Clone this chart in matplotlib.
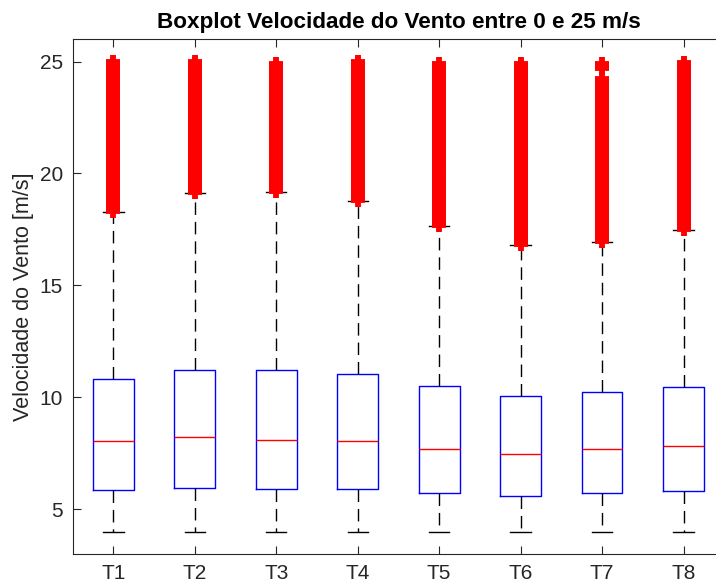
import matplotlib
matplotlib.use("Agg")
import matplotlib.pyplot as plt

plt.rcParams['font.family'] = ['Liberation Sans', 'DejaVu Sans']

labels = ["T1", "T2", "T3", "T4", "T5", "T6", "T7", "T8"]
q1 = [5.86, 5.97, 5.90, 5.90, 5.73, 5.60, 5.72, 5.82]
med = [8.06, 8.22, 8.10, 8.07, 7.69, 7.46, 7.69, 7.83]
q3 = [10.82, 11.24, 11.21, 11.04, 10.50, 10.07, 10.22, 10.47]
whislo = [4.0, 4.0, 4.0, 4.0, 4.0, 4.0, 4.0, 4.0]
whishi = [18.29, 19.15, 19.19, 18.76, 17.64, 16.79, 16.95, 17.46]

fliers_T1 = [18.33, 18.52, 18.71, 18.92, 19.12, 19.31, 19.52, 19.73, 19.93, 20.12,
             20.33, 20.52, 20.71, 20.92, 21.12, 21.31, 21.52, 21.72, 21.91, 22.12,
             22.32, 22.51, 22.72, 22.93, 23.12, 23.31, 23.52, 23.72, 23.91, 24.11,
             24.32, 24.51, 24.71, 24.86, 24.97]
fliers_T2 = [19.19, 19.38, 19.58, 19.77, 19.98, 20.17, 20.38, 20.58, 20.77, 20.97,
             21.18, 21.37, 21.58, 21.78, 21.97, 22.18, 22.38, 22.57, 22.78, 22.98,
             23.17, 23.38, 23.57, 23.78, 23.97, 24.18, 24.37, 24.57, 24.76, 24.88,
             24.98]
fliers_T3 = [19.23, 19.42, 19.62, 19.81, 20.02, 20.21, 20.42, 20.61, 20.82, 21.01,
             21.22, 21.41, 21.62, 21.82, 22.01, 22.22, 22.41, 22.62, 22.81, 23.02,
             23.21, 23.42, 23.61, 23.82, 24.01, 24.22, 24.41, 24.61, 24.78, 24.90]
fliers_T4 = [18.80, 18.99, 19.19, 19.39, 19.58, 19.79, 19.98, 20.19, 20.38, 20.58,
             20.79, 20.98, 21.19, 21.38, 21.59, 21.78, 21.98, 22.19, 22.38, 22.59,
             22.78, 22.99, 23.18, 23.39, 23.58, 23.79, 23.98, 24.19, 24.38, 24.58,
             24.77, 24.88, 24.97]
fliers_T5 = [17.68, 17.87, 18.07, 18.27, 18.46, 18.67, 18.86, 19.07, 19.26, 19.46,
             19.67, 19.86, 20.06, 20.27, 20.46, 20.66, 20.86, 21.06, 21.26, 21.46,
             21.66, 21.86, 22.06, 22.26, 22.46, 22.66, 22.86, 23.06, 23.26, 23.46,
             23.66, 23.82, 24.06, 24.22, 24.38, 24.55, 24.70, 24.87]
fliers_T6 = [16.83, 17.02, 17.22, 17.42, 17.62, 17.82, 18.02, 18.22, 18.42, 18.62,
             18.82, 19.02, 19.22, 19.42, 19.62, 19.82, 20.02, 20.22, 20.42, 20.62,
             20.82, 21.02, 21.22, 21.42, 21.62, 21.82, 22.02, 22.22, 22.42, 22.62,
             22.82, 23.02, 23.20, 23.42, 23.62, 23.80, 23.98, 24.24, 24.42, 24.60,
             24.76, 24.90]
fliers_T7 = [16.99, 17.18, 17.38, 17.58, 17.78, 17.98, 18.18, 18.38, 18.58, 18.78,
             18.98, 19.18, 19.38, 19.58, 19.78, 19.98, 20.18, 20.38, 20.58, 20.78,
             20.98, 21.18, 21.38, 21.58, 21.78, 21.98, 22.18, 22.38, 22.58, 22.76,
             22.98, 23.16, 23.32, 23.54, 23.72, 23.90, 24.06, 24.22, 24.70, 24.87]
fliers_T8 = [17.50, 17.69, 17.89, 18.09, 18.29, 18.49, 18.69, 18.89, 19.09, 19.29,
             19.49, 19.69, 19.89, 20.09, 20.29, 20.49, 20.69, 20.89, 21.09, 21.29,
             21.49, 21.69, 21.89, 22.09, 22.29, 22.49, 22.69, 22.89, 23.09, 23.29,
             23.49, 23.69, 23.88, 24.10, 24.29, 24.48, 24.66, 24.82, 24.95]
fliers = [fliers_T1, fliers_T2, fliers_T3, fliers_T4,
          fliers_T5, fliers_T6, fliers_T7, fliers_T8]

title = "Boxplot Velocidade do Vento entre 0 e 25 m/s"
ylabel = "Velocidade do Vento [m/s]"
yticks = [5, 10, 15, 20, 25]

stats = []
for i, lab in enumerate(labels):
    stats.append(dict(label=lab, q1=q1[i], med=med[i], q3=q3[i],
                      whislo=whislo[i], whishi=whishi[i], fliers=fliers[i]))

fig = plt.figure(figsize=(7.16, 5.85), dpi=100)
fig.patch.set_facecolor('white')
# the axes box runs past the right edge of the figure, as in the reference
ax = fig.add_axes([0.1015, 0.053, 0.910, 0.880])
ax.patch.set_visible(False)

axcol = '#262626'
ax.bxp(stats, positions=range(1, len(labels) + 1), widths=0.5, capwidths=0.25,
       boxprops=dict(color='#0000ff', linewidth=1.0),
       medianprops=dict(color='#ff0000', linewidth=1.0),
       whiskerprops=dict(color='black', linewidth=1.0, linestyle=(0, (9, 5))),
       capprops=dict(color='black', linewidth=1.0),
       flierprops=dict(marker='+', markersize=10, markeredgecolor='#ff0000',
                       markeredgewidth=4.2, linestyle='none'))

ax.set_xlim(0.5, 8.5)
ax.set_ylim(3, 26)
ax.set_yticks(yticks)
ax.set_xticks(range(1, len(labels) + 1))
ax.set_xticklabels(labels)
ax.yaxis.set_ticks_position('left')
ax.tick_params(direction='in', top=True, right=False, length=6, width=0.8,
               colors=axcol, labelsize=15, pad=7)
for s in ax.spines.values():
    s.set_color(axcol)
    s.set_linewidth(0.8)
ax.spines['right'].set_visible(False)
ax.set_ylabel(ylabel, fontsize=15.5, color=axcol, labelpad=4)
ax.set_title(title, fontsize=16.2, fontweight='bold', color='black', pad=8)

fig.savefig("out.png", dpi=100, facecolor='white')
